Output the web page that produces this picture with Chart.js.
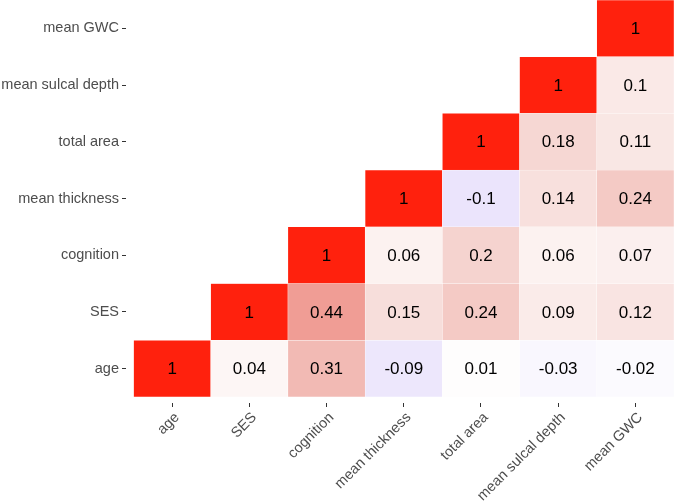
<!DOCTYPE html>
<html>
<head>
<meta charset="utf-8">
<script src="https://cdn.jsdelivr.net/npm/chart.js@4/dist/chart.umd.min.js"></script>
<style>
  html, body { margin: 0; padding: 0; background: #fff; }
  #wrap { width: 675px; height: 502px; }
</style>
</head>
<body>
<div id="wrap"><canvas id="corrChart"></canvas></div>
<script>
// variables, bottom row first
const variables = ['age', 'SES', 'cognition', 'mean thickness', 'total area', 'mean sulcal depth', 'mean GWC'];

// lower triangle, one array per row (null = empty cell)
const rowAge       = [1, 0.04, 0.31, -0.09, 0.01, -0.03, -0.02];
const rowSES       = [null, 1, 0.44, 0.15, 0.24, 0.09, 0.12];
const rowCognition = [null, null, 1, 0.06, 0.2, 0.06, 0.07];
const rowThickness = [null, null, null, 1, -0.1, 0.14, 0.24];
const rowArea      = [null, null, null, null, 1, 0.18, 0.11];
const rowSulcal    = [null, null, null, null, null, 1, 0.1];
const rowGWC       = [null, null, null, null, null, null, 1];

const rows = [rowAge, rowSES, rowCognition, rowThickness, rowArea, rowSulcal, rowGWC];

// white -> red for positive, white -> blue for negative
function cellColor(v) {
    const t = Math.min(1, Math.abs(v));
    let r, g, b;
    if (v >= 0) {
        r = 255 - 60 * t * (1 - t);
        g = 255 - 222 * t;
        b = 255 - 242 * t;
    } else {
        r = 255 - 200 * t;
        g = 255 - 270 * t;
        b = 255 - 30 * t;
    }
    return 'rgb(' + Math.round(r) + ',' + Math.round(g) + ',' + Math.round(b) + ')';
}

// one floating-bar dataset per row
const datasets = rows.map((row, i) => ({
    label: variables[i],
    data: row.map(v => v === null ? null : [i, i + 1]),
    values: row,
    backgroundColor: row.map(v => v === null ? 'rgba(0,0,0,0)' : cellColor(v)),
    borderColor: 'rgba(255,255,255,0.5)',
    borderWidth: 0.5,
    borderSkipped: false,
    barPercentage: 1,
    categoryPercentage: 1,
    grouped: false
}));

const cellText = {
    id: 'cellText',
    afterDatasetsDraw(chart) {
        const ctx = chart.ctx;
        ctx.save();
        ctx.font = '17px "Liberation Sans", Arial, sans-serif';
        ctx.fillStyle = '#000';
        ctx.textAlign = 'center';
        ctx.textBaseline = 'middle';
        chart.data.datasets.forEach((ds, i) => {
            chart.getDatasetMeta(i).data.forEach((el, j) => {
                const v = ds.values[j];
                if (v === null) return;
                ctx.fillText(String(v), el.x, (el.y + el.base) / 2 + 1);
            });
        });
        ctx.restore();
    }
};

const axisFont = { family: '"Liberation Sans", Arial, sans-serif', size: 14.5 };

new Chart(document.getElementById('corrChart'), {
    type: 'bar',
    data: { labels: variables, datasets: datasets },
    options: {
        responsive: true,
        maintainAspectRatio: false,
        animation: false,
        layout: { padding: { top: 0, right: 1, bottom: 0, left: 0 } },
        plugins: { legend: { display: false }, tooltip: { enabled: false } },
        scales: {
            x: {
                type: 'category',
                border: { display: false },
                grid: {
                    offset: false,
                    drawOnChartArea: false, drawTicks: true, tickLength: 10,
                    tickColor: '#333', tickWidth: 1,
                    tickBorderDash: [4, 20], tickBorderDashOffset: 18
                },
                ticks: {
                    color: '#4d4d4d', font: axisFont, maxRotation: 45, minRotation: 45,
                    padding: 2, labelOffset: 5, autoSkip: false
                },
                afterFit(scale) { scale.height = 105; scale.paddingLeft = 0; scale.paddingRight = 0; }
            },
            y: {
                type: 'linear',
                min: 0,
                max: 7,
                border: { display: false },
                grid: {
                    drawOnChartArea: false, drawTicks: true, tickLength: 11.5,
                    tickColor: '#333', tickWidth: 1,
                    tickBorderDash: [4, 20]
                },
                afterBuildTicks(scale) { scale.ticks = variables.map((_, i) => ({ value: i + 0.5 })); },
                ticks: {
                    color: '#4d4d4d', font: axisFont, padding: 3,
                    callback: (value, index) => variables[index]
                },
                afterFit(scale) { scale.width = 133.5; scale.paddingTop = 0; scale.paddingBottom = 0; }
            }
        }
    },
    plugins: [cellText]
});
</script>
</body>
</html>
